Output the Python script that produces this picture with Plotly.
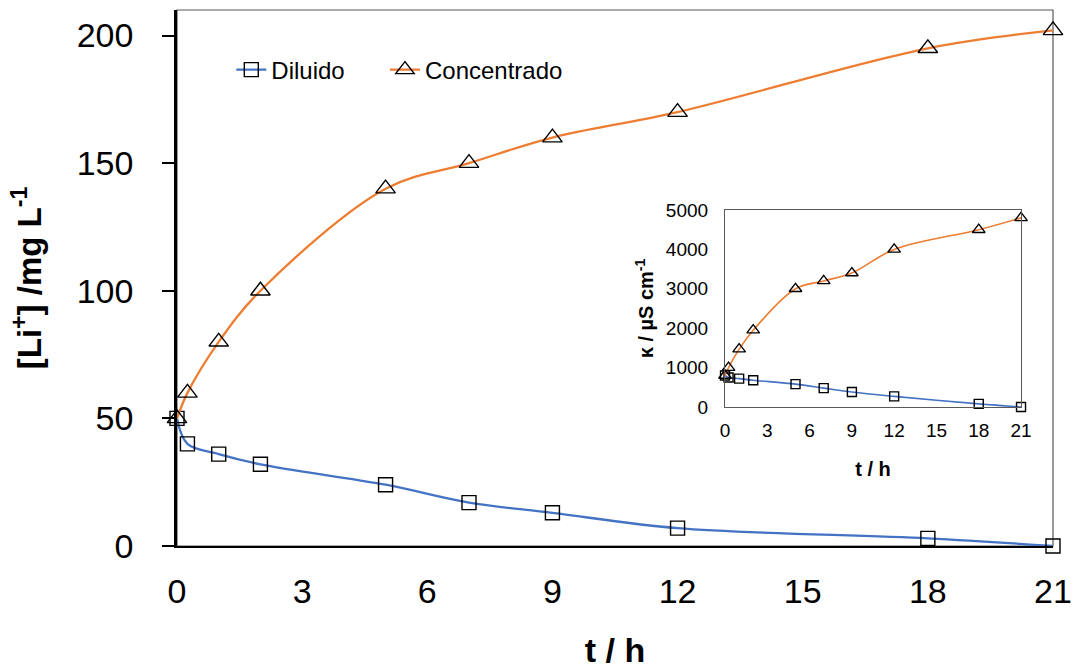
import plotly.graph_objects as go

t = [0, 0.25, 1, 2, 5, 7, 9, 12, 18, 21]
li_diluido = [50, 40, 36, 32, 24, 17, 13, 7, 3, 0]
li_concentrado = [50, 60, 80, 100, 140, 150, 160, 170, 195, 202]
k_diluido = [800, 750, 720, 680, 580, 480, 380, 270, 80, 0]
k_concentrado = [800, 1000, 1470, 1950, 3000, 3200, 3400, 4000, 4500, 4800]

BLUE = "#4472C4"
ORANGE = "#ED7D31"
FONT = "Liberation Sans, Arial, sans-serif"

fig = go.Figure()

def add(xs, ys, color, symbol, size, name, xa, ya, legend, width, lg="legend"):
    fig.add_trace(go.Scatter(
        x=xs, y=ys, name=name, mode="lines+markers",
        line=dict(color=color, width=width, shape="spline", smoothing=1.0),
        marker=dict(symbol=symbol, size=size, color="black", line=dict(width=1.4, color="black")),
        xaxis=xa, yaxis=ya, showlegend=legend, cliponaxis=False, legend=lg))

add(t, li_diluido, BLUE, "square-open", 14, "Diluido", "x", "y", True, 2.3, "legend")
add(t, li_concentrado, ORANGE, "triangle-up-open", 17, "Concentrado", "x", "y", True, 2.3, "legend2")
add(t, k_diluido, BLUE, "square-open", 9, "Diluido", "x2", "y2", False, 1.6)
add(t, k_concentrado, ORANGE, "triangle-up-open", 11, "Concentrado", "x2", "y2", False, 1.6)

# main frame (top/right thin gray)
fig.add_shape(type="rect", xref="x domain", yref="y domain", x0=0, x1=1, y0=0, y1=1,
              line=dict(color="#595959", width=1.2), layer="below")

leg_common = dict(orientation="h", yanchor="middle", xanchor="left",
                  font=dict(size=24, family=FONT, color="black"),
                  bgcolor="rgba(0,0,0,0)", itemwidth=30)

fig.update_layout(
    width=1072, height=671,
    margin=dict(l=177, r=19, t=10, b=125, autoexpand=False),
    paper_bgcolor="white", plot_bgcolor="white",
    font=dict(family=FONT, color="black"),
    showlegend=True,
    legend=dict(x=0.062, y=0.888, **leg_common),
    legend2=dict(x=0.2374, y=0.888, **leg_common),
    xaxis=dict(range=[0, 21], dtick=3, tick0=0, showgrid=False, zeroline=False, automargin=False,
               showline=True, linecolor="black", linewidth=2, ticks="",
               tickfont=dict(size=34, family=FONT), ticklabelstandoff=14,
               title=dict(text="<b>t / h</b>", font=dict(size=34, family=FONT), standoff=29)),
    yaxis=dict(range=[0, 210], dtick=50, tick0=0, showgrid=False, zeroline=False, automargin=False,
               showline=True, linecolor="black", linewidth=2.5, ticks="outside", ticklen=12,
               tickwidth=2, tickcolor="black",
               tickfont=dict(size=34, family=FONT), ticklabelstandoff=22,
               title=dict(text="<b>[Li<sup>+</sup>] /mg L<sup>-1</sup></b>",
                          font=dict(size=33, family=FONT), standoff=26)),
    xaxis2=dict(domain=[0.6256, 0.9635], anchor="y2", range=[0, 21], dtick=3, tick0=0,
                automargin=False,
                showgrid=False, zeroline=False, showline=True, mirror=True,
                linecolor="#595959", linewidth=1.2, ticks="",
                tickfont=dict(size=19, family=FONT), ticklabelstandoff=6,
                title=dict(text="<b>t / h</b>", font=dict(size=20, family=FONT), standoff=22)),
    yaxis2=dict(domain=[0.2593, 0.6269], anchor="x2", range=[0, 5000], dtick=1000, tick0=0,
                automargin=False,
                showgrid=False, zeroline=False, showline=True, mirror=True,
                linecolor="#595959", linewidth=1.2, ticks="",
                tickfont=dict(size=19, family=FONT), ticklabelstandoff=12,
                title=dict(text="<b>κ / µS cm<sup>-1</sup></b>", font=dict(size=20, family=FONT),
                           standoff=6)),
)

fig.write_html("out.html")
